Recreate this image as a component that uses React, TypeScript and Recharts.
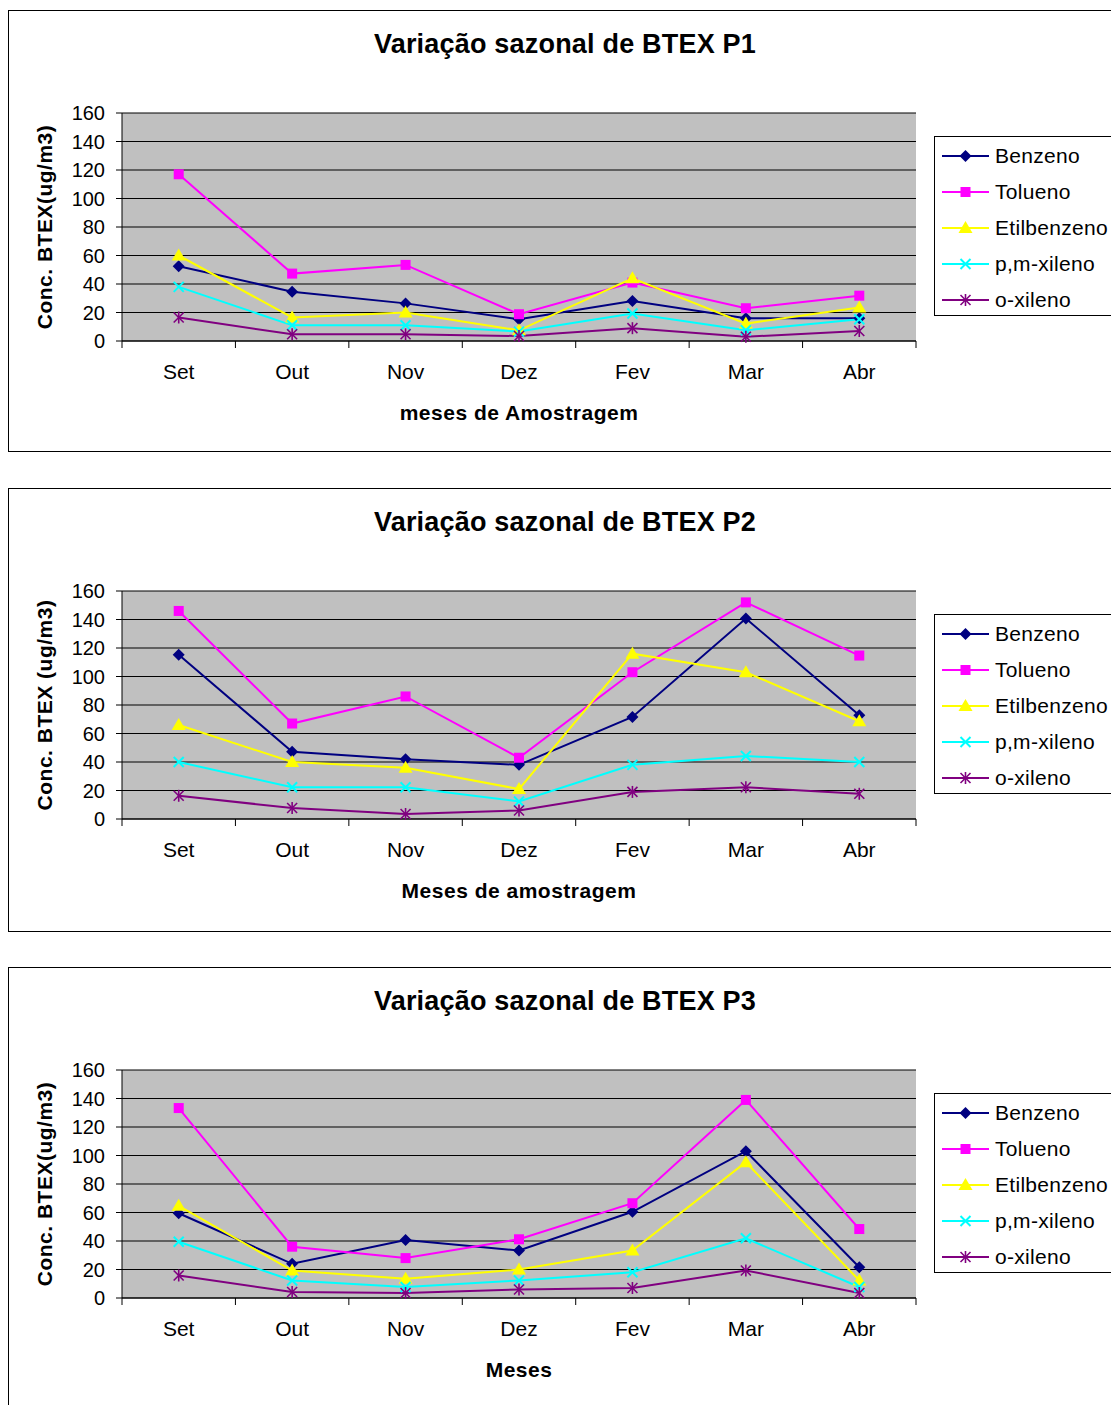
import { LineChart, Line, XAxis, YAxis, CartesianGrid, Legend } from "recharts";

const months = ["Set", "Out", "Nov", "Dez", "Fev", "Mar", "Abr"];
const compounds = ["Benzeno", "Tolueno", "Etilbenzeno", "p,m-xileno", "o-xileno"];
const yTicks = [0, 20, 40, 60, 80, 100, 120, 140, 160];

// P1
const p1Benzeno = [52.5, 34.6, 26.4, 15.3, 28, 16, 16];
const p1Tolueno = [117, 47.3, 53.4, 18.8, 41, 23, 31.8];
const p1Etilbenzeno = [60, 16.5, 20, 7.5, 44, 12.2, 23.5];
const p1PmXileno = [38, 11, 11, 6.6, 19.3, 7.5, 15.3];
const p1OXileno = [16.5, 4.7, 4.7, 3.5, 9, 3, 7];

// P2
const p2Benzeno = [115.3, 47.2, 41.9, 38, 71.6, 140.7, 72.8];
const p2Tolueno = [146, 67, 86, 43, 103, 152, 114.7];
const p2Etilbenzeno = [66, 40, 36, 21, 116, 103, 68.6];
const p2PmXileno = [40, 22.3, 22.3, 12.3, 38, 44.2, 40];
const p2OXileno = [16.3, 7.7, 3.5, 6, 19, 22.3, 17.7];

// P3
const p3Benzeno = [59.5, 24, 40.7, 33.3, 60.5, 103, 21.6];
const p3Tolueno = [133.3, 36, 28, 41.2, 66.5, 139, 48.4];
const p3Etilbenzeno = [64.7, 19.3, 13.5, 20, 33.3, 95.3, 12.3];
const p3PmXileno = [39.5, 12.3, 7.7, 12.3, 18.1, 41.9, 7.7];
const p3OXileno = [15.8, 4.2, 3.5, 6, 7, 19.3, 3.5];

const FONT = '"Liberation Sans", Arial, sans-serif';
const CHART_W = 1111;
const CHART_H = 445;
const PLOT_LEFT = 122;
const PLOT_RIGHT = 916;
const BAND = (PLOT_RIGHT - PLOT_LEFT) / months.length;

const colors: Record<string, string> = {
  Benzeno: "#000080",
  Tolueno: "#FF00FF",
  Etilbenzeno: "#FFFF00",
  "p,m-xileno": "#00FFFF",
  "o-xileno": "#800080",
};

const markers: Record<string, string> = {
  Benzeno: "diamond",
  Tolueno: "square",
  Etilbenzeno: "triangle",
  "p,m-xileno": "cross",
  "o-xileno": "star",
};

const panels = [
  {
    top: 10,
    boxHeight: 442,
    title: "Variação sazonal de BTEX P1",
    yLabel: "Conc. BTEX(ug/m3)",
    xLabel: "meses de Amostragem",
    series: [p1Benzeno, p1Tolueno, p1Etilbenzeno, p1PmXileno, p1OXileno],
  },
  {
    top: 488,
    boxHeight: 444,
    title: "Variação sazonal de BTEX P2",
    yLabel: "Conc. BTEX (ug/m3)",
    xLabel: "Meses de amostragem",
    series: [p2Benzeno, p2Tolueno, p2Etilbenzeno, p2PmXileno, p2OXileno],
  },
  {
    top: 967,
    boxHeight: 600,
    title: "Variação sazonal de BTEX P3",
    yLabel: "Conc. BTEX(ug/m3)",
    xLabel: "Meses",
    series: [p3Benzeno, p3Tolueno, p3Etilbenzeno, p3PmXileno, p3OXileno],
  },
];

function Marker({ kind, cx, cy, color }: { kind: string; cx: number; cy: number; color: string }) {
  switch (kind) {
    case "diamond":
      return <polygon points={`${cx},${cy - 6} ${cx + 6},${cy} ${cx},${cy + 6} ${cx - 6},${cy}`} fill={color} />;
    case "square":
      return <rect x={cx - 5} y={cy - 5} width={10} height={10} fill={color} />;
    case "triangle":
      return <polygon points={`${cx},${cy - 7} ${cx + 7},${cy + 5} ${cx - 7},${cy + 5}`} fill={color} />;
    case "cross":
      return (
        <g stroke={color} strokeWidth={2}>
          <line x1={cx - 5} y1={cy - 5} x2={cx + 5} y2={cy + 5} />
          <line x1={cx - 5} y1={cy + 5} x2={cx + 5} y2={cy - 5} />
        </g>
      );
    default:
      return (
        <g stroke={color} strokeWidth={1.6}>
          <line x1={cx - 5} y1={cy - 5} x2={cx + 5} y2={cy + 5} />
          <line x1={cx - 5} y1={cy + 5} x2={cx + 5} y2={cy - 5} />
          <line x1={cx} y1={cy - 6} x2={cx} y2={cy + 6} />
        </g>
      );
  }
}

// month label centred in its band, tick marks on the band edges
function MonthTick(props: any) {
  const { x, y, payload, index } = props;
  const last = index === months.length - 1;
  return (
    <g>
      <line x1={x - BAND / 2} x2={x - BAND / 2} y1={y} y2={y + 7} stroke="#000" />
      {last && <line x1={x + BAND / 2} x2={x + BAND / 2} y1={y} y2={y + 7} stroke="#000" />}
      <text x={x} y={y + 38} textAnchor="middle" fontSize={21} fontFamily={FONT} fill="#000">
        {payload.value}
      </text>
    </g>
  );
}

function LegendBox() {
  return (
    <div
      style={{
        border: "1px solid #000",
        background: "#fff",
        width: 200,
        height: 180,
        boxSizing: "border-box",
        paddingTop: 1,
        fontFamily: FONT,
        fontSize: 21,
        letterSpacing: 0.3,
        color: "#000",
      }}
    >
      {compounds.map((name) => (
        <div key={name} style={{ height: 36, display: "flex", alignItems: "center" }}>
          <svg width={58} height={36} style={{ flex: "none" }}>
            <line x1={7} x2={54} y1={18} y2={18} stroke={colors[name]} strokeWidth={2} />
            <Marker kind={markers[name]} cx={30.5} cy={18} color={colors[name]} />
          </svg>
          <span style={{ marginLeft: 2, whiteSpace: "nowrap" }}>{name}</span>
        </div>
      ))}
    </div>
  );
}

function Panel({ panel }: { panel: (typeof panels)[number] }) {
  const rows = months.map((mes, i) => {
    const row: Record<string, string | number> = { mes };
    compounds.forEach((name, k) => {
      row[name] = panel.series[k][i];
    });
    return row;
  });

  return (
    <>
      <div
        style={{
          position: "absolute",
          left: 8,
          top: panel.top,
          width: 1200,
          height: panel.boxHeight,
          border: "1px solid #000",
          boxSizing: "border-box",
        }}
      />
      <div style={{ position: "absolute", left: 0, top: panel.top, width: CHART_W, height: CHART_H }}>
        <LineChart
          width={CHART_W}
          height={CHART_H}
          data={rows}
          margin={{ top: 103, right: CHART_W - PLOT_RIGHT, bottom: 54, left: PLOT_LEFT - 60 }}
        >
          <CartesianGrid vertical={false} stroke="#000" fill="#C0C0C0" fillOpacity={1} />
          <XAxis
            dataKey="mes"
            interval={0}
            padding={{ left: BAND / 2, right: BAND / 2 }}
            tickLine={false}
            tickSize={0}
            tickMargin={0}
            axisLine={{ stroke: "#000" }}
            tick={<MonthTick />}
            height={60}
            label={{
              value: panel.xLabel,
              position: "bottom",
              offset: 4,
              style: { fontFamily: FONT, fontSize: 21, fontWeight: "bold", letterSpacing: 0.5, fill: "#000" },
            }}
          />
          {/* gray frame along the top and right of the plot area */}
          <XAxis
            xAxisId="frame"
            dataKey="mes"
            orientation="top"
            height={0}
            tick={false}
            tickLine={false}
            axisLine={{ stroke: "#808080", strokeWidth: 2 }}
          />
          <YAxis
            domain={[0, 160]}
            ticks={yTicks}
            interval={0}
            width={60}
            tickSize={6}
            tickMargin={11}
            tickLine={{ stroke: "#000" }}
            axisLine={{ stroke: "#000" }}
            tick={{ fontFamily: FONT, fontSize: 20, fill: "#000" }}
          />
          <YAxis
            yAxisId="frame"
            orientation="right"
            domain={[0, 160]}
            width={0}
            tick={false}
            tickLine={false}
            axisLine={{ stroke: "#808080", strokeWidth: 2 }}
          />
          <Legend
            layout="vertical"
            align="center"
            verticalAlign="middle"
            content={() => <LegendBox />}
            wrapperStyle={{ position: "absolute", left: 934, top: 126, width: 200, height: 180 }}
          />
          {compounds.map((name) => (
            <Line
              key={name}
              type="linear"
              dataKey={name}
              stroke={colors[name]}
              strokeWidth={2}
              isAnimationActive={false}
              dot={(p: any) => (
                <Marker key={`${name}-${p.index}`} kind={markers[name]} cx={p.cx} cy={p.cy} color={colors[name]} />
              )}
              activeDot={false}
            />
          ))}
        </LineChart>
      </div>
      <div
        style={{
          position: "absolute",
          left: 0,
          width: 1130,
          top: panel.top + 18,
          textAlign: "center",
          fontFamily: FONT,
          fontWeight: "bold",
          fontSize: 27,
          lineHeight: "32px",
          letterSpacing: 0.2,
          color: "#000",
        }}
      >
        {panel.title}
      </div>
      <div
        style={{
          position: "absolute",
          left: 45,
          top: panel.top + 217,
          transform: "translate(-50%, -50%) rotate(-90deg)",
          whiteSpace: "nowrap",
          fontFamily: FONT,
          fontWeight: "bold",
          fontSize: 21,
          letterSpacing: 0.5,
          color: "#000",
        }}
      >
        {panel.yLabel}
      </div>
    </>
  );
}

export default function App() {
  return (
    <div style={{ position: "fixed", left: 0, top: 0, width: 1111, height: 1405, overflow: "hidden", background: "#fff" }}>
      {panels.map((panel) => (
        <Panel key={panel.title} panel={panel} />
      ))}
    </div>
  );
}
